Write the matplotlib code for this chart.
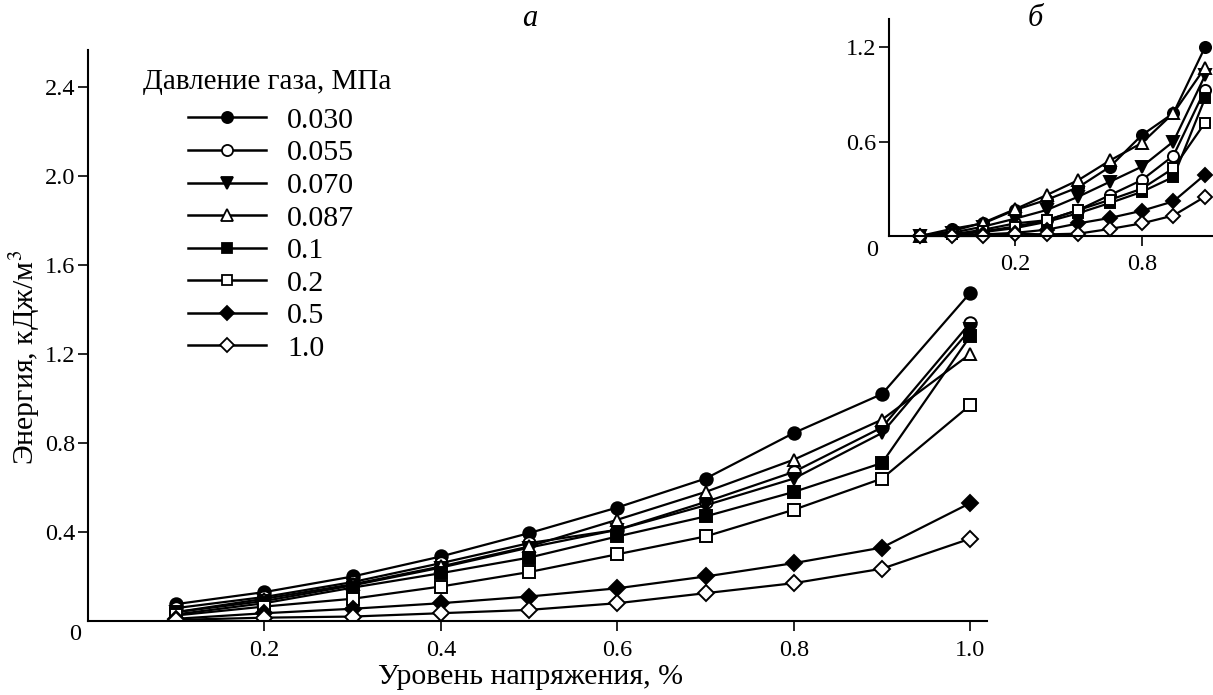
import matplotlib
matplotlib.use("Agg")
import matplotlib.pyplot as plt
from matplotlib.lines import Line2D

plt.rcParams['font.family'] = ['Liberation Serif', 'DejaVu Serif']
plt.rcParams['mathtext.fontset'] = 'stix'

# ---- data ----
legend_title = 'Давление газа, МПа'
labels = ['0.030', '0.055', '0.070', '0.087', '0.1', '0.2', '0.5', '1.0']
markers = ['o', 'o', 'v', '^', 's', 's', 'D', 'D']
filled = [True, False, True, False, True, False, True, False]

x_main = [0.1, 0.2, 0.3, 0.4, 0.5, 0.6, 0.7, 0.8, 0.9, 1.0]
y_030 = [0.076, 0.13, 0.20, 0.29, 0.395, 0.51, 0.64, 0.845, 1.02, 1.475]
y_055 = [0.058, 0.108, 0.175, 0.26, 0.35, 0.41, 0.535, 0.67, 0.87, 1.34]
y_070 = [0.04, 0.09, 0.16, 0.24, 0.33, 0.41, 0.52, 0.64, 0.845, 1.31]
y_087 = [0.04, 0.10, 0.165, 0.245, 0.335, 0.455, 0.58, 0.725, 0.905, 1.20]
y_01 = [0.03, 0.08, 0.15, 0.215, 0.285, 0.38, 0.47, 0.58, 0.71, 1.28]
y_02 = [0.025, 0.065, 0.10, 0.155, 0.22, 0.30, 0.38, 0.50, 0.64, 0.97]
y_05 = [0.01, 0.035, 0.055, 0.08, 0.11, 0.147, 0.20, 0.26, 0.33, 0.53]
y_10 = [0.005, 0.015, 0.02, 0.035, 0.05, 0.08, 0.125, 0.17, 0.235, 0.37]
main_series = [y_030, y_055, y_070, y_087, y_01, y_02, y_05, y_10]

x_inset = [0.1, 0.2, 0.3, 0.4, 0.5, 0.6, 0.7, 0.8, 0.9, 1.0]
i_030 = [0.0, 0.045, 0.08, 0.165, 0.23, 0.31, 0.44, 0.64, 0.78, 1.20]
i_055 = [0.0, 0.01, 0.04, 0.08, 0.10, 0.165, 0.26, 0.355, 0.51, 0.93]
i_070 = [0.0, 0.02, 0.06, 0.11, 0.165, 0.25, 0.345, 0.44, 0.60, 1.02]
i_087 = [0.0, 0.03, 0.085, 0.17, 0.26, 0.355, 0.48, 0.59, 0.78, 1.07]
i_01 = [0.0, 0.01, 0.025, 0.05, 0.09, 0.145, 0.21, 0.28, 0.375, 0.875]
i_02 = [0.0, 0.01, 0.03, 0.06, 0.10, 0.165, 0.23, 0.30, 0.43, 0.72]
i_05 = [0.0, 0.005, 0.01, 0.02, 0.04, 0.08, 0.115, 0.16, 0.22, 0.39]
i_10 = [0.0, 0.0, 0.0, 0.015, 0.01, 0.015, 0.045, 0.08, 0.13, 0.25]
inset_series = [i_030, i_055, i_070, i_087, i_01, i_02, i_05, i_10]

main_xticks = [0.2, 0.4, 0.6, 0.8, 1.0]
main_yticks = [0.4, 0.8, 1.2, 1.6, 2.0, 2.4]
inset_xticks = [0.4, 0.8]
inset_xticklabels = ['0.2', '0.8']
inset_yticks = [0.6, 1.2]

W, H = 1213, 695
fig = plt.figure(figsize=(W / 100, H / 100), dpi=100)

def style(ax):
    for s in ['top', 'right']:
        ax.spines[s].set_visible(False)
    for s in ['left', 'bottom']:
        ax.spines[s].set_linewidth(1.5)
    ax.tick_params(direction='out', width=1.2, length=7, labelsize=17.5)
    ax.tick_params(axis='y', pad=2)

# main axes
ax = fig.add_axes([88 / W, 1 - 621 / H, (987 - 88) / W, (621 - 50) / H])
style(ax)
for ys, m, f, lab in zip(main_series, markers, filled, labels):
    ax.plot(x_main, ys, color='black', lw=1.6, marker=m,
            markersize=9 if m not in ('s', 'D') else 8,
            markerfacecolor='black' if f else 'white',
            markeredgecolor='black', markeredgewidth=1.4, label=lab)
ax.set_xlim(0, 1.019)
ax.set_ylim(0, 2.566)
ax.set_xticks(main_xticks)
ax.set_xticklabels([f'{v:.1f}' for v in main_xticks])
ax.set_yticks(main_yticks)
ax.set_yticklabels([f'{v:.1f}' for v in main_yticks])
ax.tick_params(axis='x', pad=7)
fig.text(75 / W, 1 - 635 / H, '0', fontsize=17.5, ha='center', va='center')
fig.text(530 / W, 1 - 677 / H, 'Уровень напряжения, %', fontsize=21.5,
         ha='center', va='center')
fig.text(25 / W, 1 - 357 / H, 'Энергия, кДж/м$^3$', fontsize=21.5,
         ha='center', va='center', rotation=90)
fig.text(530 / W, 1 - 19 / H, 'а', fontsize=22, style='italic', ha='center', va='center')

# legend
fig.text(143 / W, 1 - 82 / H, legend_title, fontsize=21, ha='left', va='center')
handles = []
for m, f, lab in zip(markers, filled, labels):
    handles.append(Line2D([0], [0], color='black', lw=1.8, marker=m,
                          markersize=8 if m not in ('s', 'D') else 7.5,
                          markerfacecolor='black' if f else 'white',
                          markeredgecolor='black', markeredgewidth=1.3))
leg = ax.legend(handles, labels, loc='upper left',
                bbox_to_anchor=(188 / W, 1 - 107 / H), bbox_transform=fig.transFigure,
                frameon=False, fontsize=21.5, handlelength=2.6,
                handletextpad=0.72, labelspacing=0.19, borderaxespad=0, borderpad=0)

# inset
ai = fig.add_axes([889 / W, 1 - 236 / H, (1213 - 889) / W, (236 - 19) / H])
style(ai)
for ys, m, f in zip(inset_series, markers, filled):
    ai.plot(x_inset, ys, color='black', lw=1.6, marker=m,
            markersize=8 if m not in ('s', 'D') else 7,
            markerfacecolor='black' if f else 'white',
            markeredgecolor='black', markeredgewidth=1.4, clip_on=False)
ai.set_xlim(0.002, 1.025)
ai.set_ylim(0, 1.378)
ai.set_xticks(inset_xticks)
ai.set_xticklabels(inset_xticklabels)
ai.set_yticks(inset_yticks)
ai.set_yticklabels([f'{v:.1f}' for v in inset_yticks])
ai.tick_params(axis='x', pad=6)
fig.text(872 / W, 1 - 250 / H, '0', fontsize=17.5, ha='center', va='center')
fig.text(1035 / W, 1 - 18 / H, 'б', fontsize=22, style='italic', ha='center', va='center')

fig.savefig('out.png', dpi=100)
